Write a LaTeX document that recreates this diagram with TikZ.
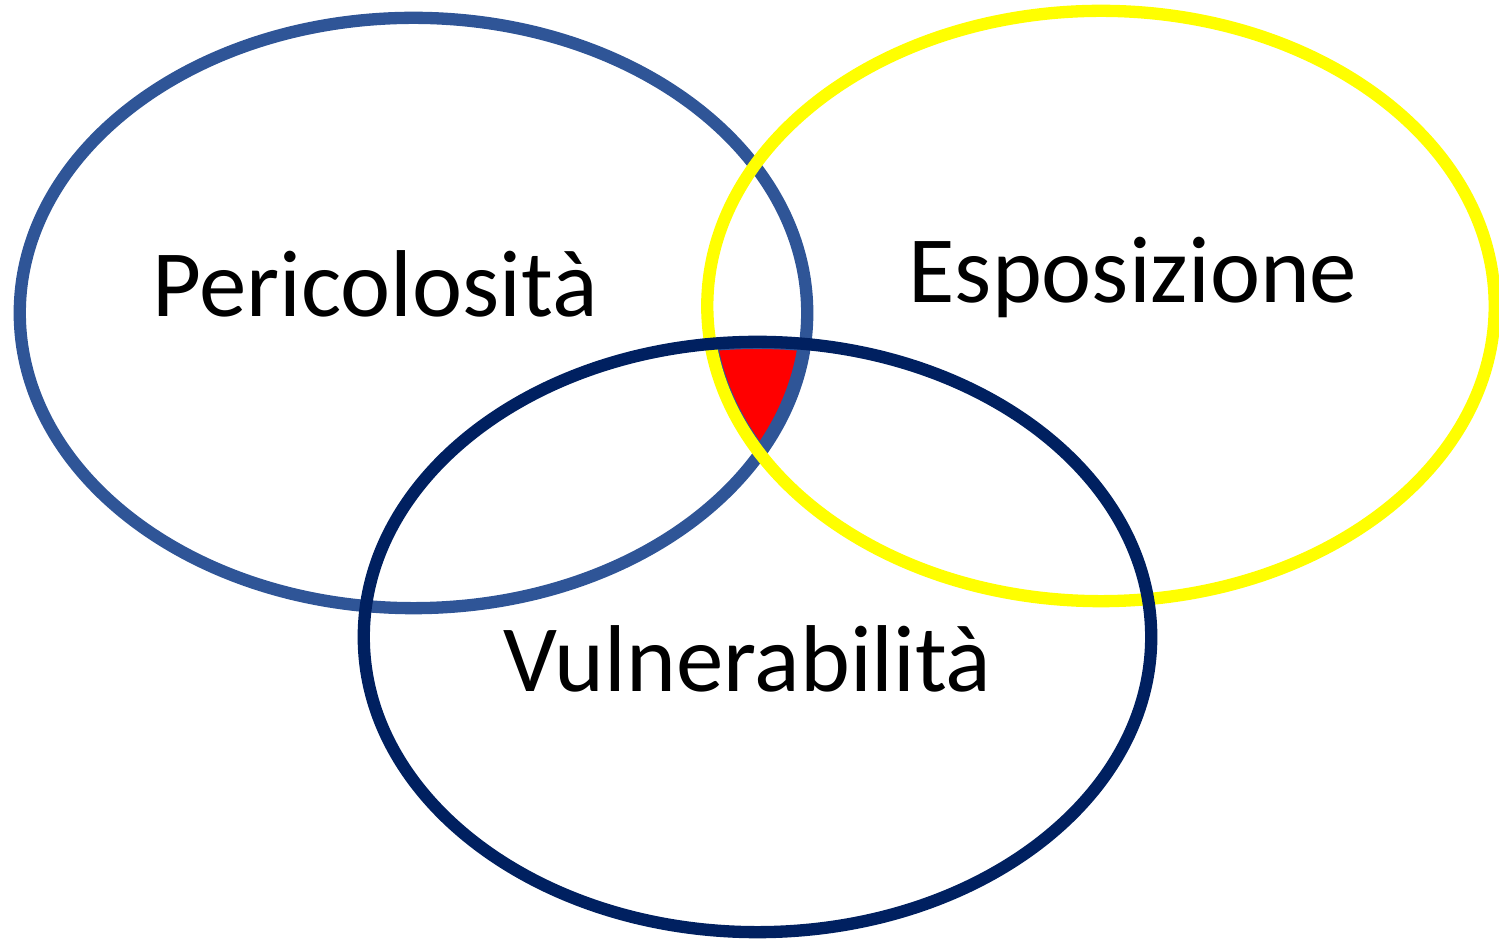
\documentclass[tikz,border=0pt]{standalone}
\usepackage{fontspec}
\setmainfont{Carlito}
\usetikzlibrary{positioning}
\definecolor{periblue}{HTML}{2F5597}
\definecolor{vulnnavy}{HTML}{002060}
\definecolor{esposyellow}{HTML}{FFFF00}
\tikzset{
%Define style for the set borders
set line/.style={line width=3.5pt},
%Define style for the set names
set label/.style={anchor=base, font=\fontsize{27}{32}\selectfont},
%Shape of every set
set shape/.style={x radius=3.935cm, y radius=2.95cm},
}

\begin{document}
\begin{tikzpicture}[x=0.01cm, y=-0.01cm]
    \useasboundingbox (0,0) rectangle (1499,943);
    %Centres of the three sets
    \coordinate (peric) at (413.5,313);
    \coordinate (espos) at (1101,306);
    \coordinate (vulner) at (757.5,637);
    %The common part of all three sets
    \begin{scope}
      \clip (peric) ellipse [set shape];
      \clip (espos) ellipse [set shape];
      \clip (vulner) ellipse [set shape];
      \fill[red] (0,0) rectangle (1499,943);
      \draw[periblue, line width=4.1pt] (peric) ellipse [set shape];
      \draw[periblue, line width=4.1pt] (espos) ellipse [set shape];
      \draw[periblue, line width=4.1pt] (vulner) ellipse [set shape];
    \end{scope}
    %The sets
    \draw[set line, periblue] (peric) ellipse [set shape];
    \draw[set line, esposyellow] (espos) ellipse [set shape];
    \draw[set line, vulnnavy] (vulner) ellipse [set shape];
    %Names
    \node[set label] (pericname) at (375,317) {Pericolosità};
    \node[set label] (esposname) at (1133,303) {Esposizione};
    \node[set label] (vulnername) at (747.5,692) {Vulnerabilità};
\end{tikzpicture}
\end{document}
